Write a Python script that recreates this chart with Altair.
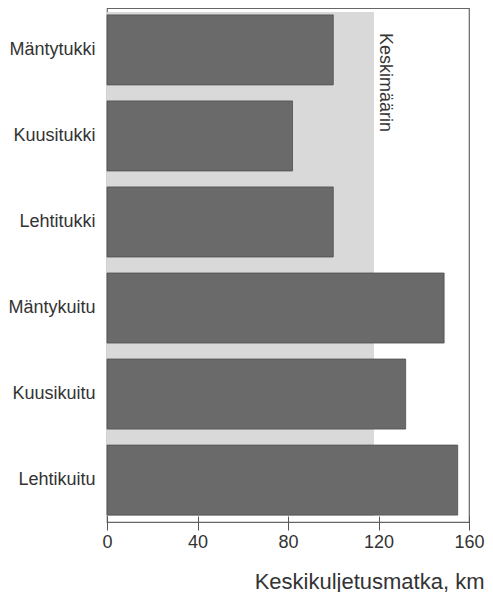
import altair as alt
import pandas as pd

categories = ["Mäntytukki", "Kuusitukki", "Lehtitukki", "Mäntykuitu", "Kuusikuitu", "Lehtikuitu"]
distances = [100, 82, 100, 149, 132, 155]
average = 118
average_label = "Keskimäärin"
x_ticks = [0, 40, 80, 120, 160]
x_title = "Keskikuljetusmatka, km"

bars_df = pd.DataFrame({"laji": categories, "matka": distances})
avg_df = pd.DataFrame({"start": [0], "avg": [average], "label": [average_label]})

W, H = 362, 514
FONT = "Liberation Sans"

x_scale = alt.Scale(domain=[0, 160], nice=False, zero=True)
y_scale = alt.Scale(domain=categories, paddingInner=0.186, paddingOuter=0.08)

band = alt.Chart(avg_df).mark_rect(color="#d9d9d9").encode(
    x=alt.X("start:Q", scale=x_scale),
    x2="avg:Q",
    y=alt.value(4),
    y2=alt.value(H - 6),
)

label = alt.Chart(avg_df).mark_text(
    angle=90, align="left", baseline="middle", font=FONT, fontSize=18,
    color="#333333", dx=25, dy=-11,
).encode(
    x=alt.X("avg:Q", scale=x_scale),
    y=alt.value(0),
    text="label:N",
)

bars = alt.Chart(bars_df).mark_bar(color="#6a6a6a", stroke="#4e4e4e", strokeWidth=0.8).encode(
    x=alt.X(
        "matka:Q", scale=x_scale,
        axis=alt.Axis(
            values=x_ticks, title=x_title, domain=False, grid=False,
            offset=-6, tickSize=14, tickColor="#555555", tickWidth=1,
            labelFont=FONT, labelFontSize=18, labelColor="#333333", labelPadding=3,
            labelFlush=False,
            titleFont=FONT, titleFontSize=22, titleFontWeight="normal", titleColor="#333333",
            titleAlign="right", titleAnchor="end", titleX=377, titleY=72,
            titleBaseline="alphabetic",
        ),
    ),
    y=alt.Y(
        "laji:N", scale=y_scale, sort=categories,
        axis=alt.Axis(
            title=None, domain=False, ticks=False, grid=False,
            labelFont=FONT, labelFontSize=18, labelColor="#333333", labelPadding=12,
        ),
    ),
)

chart = alt.layer(band, label, bars).properties(
    width=W, height=H,
    autosize=alt.AutoSizeParams(type="none"),
    padding={"left": 99, "top": 0, "right": 16, "bottom": 70},
).configure_view(stroke="#666666", strokeWidth=1.2)

chart.save("out.html", embed_options={"renderer": "svg", "actions": False})
